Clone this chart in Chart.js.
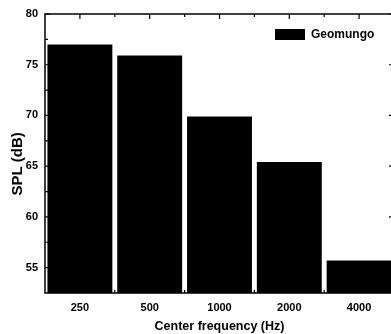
<!DOCTYPE html>
<html>
<head>
<meta charset="utf-8">
<script src="https://cdn.jsdelivr.net/npm/chart.js@4"></script>
<style>
body{margin:0;background:#fff;overflow:hidden}
#wrap{width:394px;height:334px;position:relative}
</style>
</head>
<body>
<div id="wrap"><canvas id="c"></canvas></div>
<script>
const categories = ["250", "500", "1000", "2000", "4000"]
const splValues = [77.0, 75.9, 69.9, 65.4, 55.7]
const yTicks = [55, 60, 65, 70, 75, 80]
const seriesName = "Geomungo"

Chart.defaults.font.family = "'Liberation Sans', Arial, sans-serif"
Chart.defaults.font.weight = "bold"
Chart.defaults.color = "#000"

// box round the plot with inward ticks on all four sides
const frame = {
 id: "frame",
 afterDatasetsDraw(chart){
  const {ctx, chartArea: a, scales: {x, y}} = chart
  ctx.save()
  ctx.strokeStyle = "#000"
  ctx.lineWidth = 1.5
  ctx.strokeRect(a.left, a.top, a.right - a.left, a.bottom - a.top)
  ctx.lineWidth = 1.2
  ctx.beginPath()
  yTicks.forEach(v=>{
   const py = y.getPixelForValue(v)
   ctx.moveTo(a.left, py); ctx.lineTo(a.left + 5, py)
   ctx.moveTo(a.right, py); ctx.lineTo(a.right - 5, py)
   const pm = y.getPixelForValue(v - 2.5)
   if(pm < a.bottom){
    ctx.moveTo(a.left, pm); ctx.lineTo(a.left + 3, pm)
    ctx.moveTo(a.right, pm); ctx.lineTo(a.right - 3, pm)
   }
  })
  categories.forEach((c, i)=>{
   const px = x.getPixelForValue(i)
   ctx.moveTo(px, a.top); ctx.lineTo(px, a.top + 5)
   ctx.moveTo(px, a.bottom); ctx.lineTo(px, a.bottom - 5)
   if(i > 0){
    const pb = (x.getPixelForValue(i - 1) + px) / 2
    ctx.moveTo(pb, a.top); ctx.lineTo(pb, a.top + 3)
    ctx.moveTo(pb, a.bottom); ctx.lineTo(pb, a.bottom - 3)
   }
  })
  ctx.stroke()

  // legend, top right inside the plot
  const ds = chart.data.datasets[0]
  ctx.fillStyle = ds.backgroundColor
  ctx.fillRect(a.right - 119, a.top + 15, 30, 11)
  ctx.font = "bold 12px 'Liberation Sans', Arial, sans-serif"
  ctx.textBaseline = "middle"
  ctx.textAlign = "left"
  ctx.fillText(ds.label, a.right - 83, a.top + 20.5)
  ctx.restore()
 }
}

new Chart(document.getElementById("c"), {
 type: "bar",
 data: {
  labels: categories,
  datasets: [{
   label: seriesName,
   data: splValues,
   backgroundColor: "#000",
   borderWidth: 0,
   categoryPercentage: 1,
   barPercentage: 0.93
  }]
 },
 options: {
  responsive: true,
  maintainAspectRatio: false,
  devicePixelRatio: 1,
  animation: false,
  layout: {padding: {top: 14, right: 0, left: 0, bottom: 0}},
  plugins: {
   tooltip: {enabled: false},
   legend: {display: false}
  },
  scales: {
   x: {
    grid: {display: false, drawTicks: false},
    border: {display: false},
    ticks: {padding: 8, font: {size: 11, weight: "bold"}},
    title: {display: true, text: "Center frequency (Hz)", font: {size: 12.5, weight: "bold"}, padding: {top: 1, bottom: 0}},
    afterFit(s){ s.height = 41 }
   },
   y: {
    min: 52.5,
    max: 80,
    grid: {display: false, drawTicks: false},
    border: {display: false},
    ticks: {padding: 7, font: {size: 11, weight: "bold"}},
    afterBuildTicks(s){ s.ticks = yTicks.map(v=>({value: v})) },
    title: {display: true, text: "SPL (dB)     ", font: {size: 15, weight: "bold"}, padding: {top: 9, bottom: 0}},
    afterFit(s){ s.width = 45 }
   }
  }
 },
 plugins: [frame]
})
</script>
</body>
</html>
